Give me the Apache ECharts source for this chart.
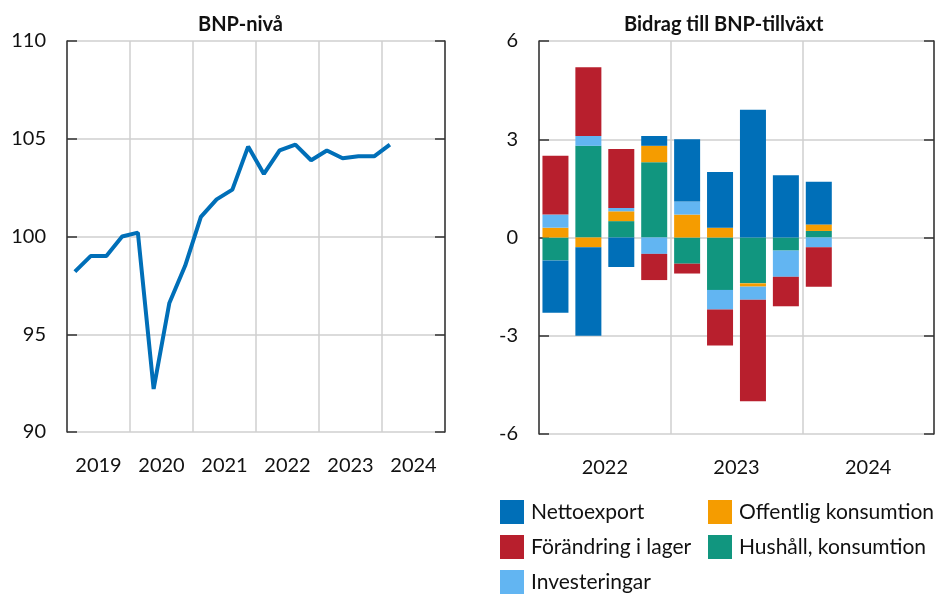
<!DOCTYPE html>
<html>
<head>
<meta charset="utf-8">
<script src="https://cdn.jsdelivr.net/npm/echarts@6/dist/echarts.min.js"></script>
<style>
  html, body { margin: 0; padding: 0; background: #fff; }
  #chart { width: 944px; height: 594px; }
</style>
</head>
<body>
<div id="chart"></div>
<script>
// Left panel: GDP level, quarterly 2019K1-2024K1
var years = ['2019', '2020', '2021', '2022', '2023', '2024']
var quarters = []
years.forEach(function (y) {
    for (var q = 1; q <= 4; q++) quarters.push(y + 'K' + q)
})
var bnpLevel = [98.2, 99.0, 99.0, 100.0, 100.2, 92.2, 96.6, 98.5,
    101.0, 101.9, 102.4, 104.6, 103.2, 104.4, 104.7, 103.9,
    104.4, 104.0, 104.1, 104.1, 104.7]

// Right panel: contributions to GDP growth, 2022K1-2024K1
var barYears = ['2022', '2023', '2024']
var barQuarters = quarters.slice(12)
var hushall = [-0.7, 2.8, 0.5, 2.3, -0.8, -1.6, -1.4, -0.4, 0.2]
var offentlig = [0.3, -0.3, 0.3, 0.5, 0.7, 0.3, -0.1, 0.0, 0.2]
var investeringar = [0.4, 0.3, 0.1, -0.5, 0.4, -0.6, -0.4, -0.8, -0.3]
var lager = [1.8, 2.1, 1.8, -0.8, -0.3, -1.1, -3.1, -0.9, -1.2]
var nettoexport = [-1.6, -2.7, -0.9, 0.3, 1.9, 1.7, 3.9, 1.9, 1.3]

var FONT = 'Lato'
var GRID_COLOR = '#cfcfcf'
var AXIS_COLOR = '#333'
var TEXT_COLOR = '#111'

var colors = {
    netto: '#006fb8',
    lager: '#b81f2d',
    invest: '#62b5f2',
    offentlig: '#f59c00',
    hushall: '#11967f'
}

function yLeft(gridIndex, min, max, interval) {
    return {
        type: 'value', gridIndex: gridIndex, min: min, max: max, interval: interval,
        axisLine: {show: true, lineStyle: {color: AXIS_COLOR, width: 1.5}},
        axisTick: {show: true, inside: true, length: 10, lineStyle: {color: AXIS_COLOR, width: 1.5}},
        axisLabel: {fontFamily: FONT, fontSize: 20, color: TEXT_COLOR, margin: 21},
        splitLine: {show: true, lineStyle: {color: GRID_COLOR, width: 1.5}}
    }
}

function yRight(gridIndex, min, max, interval) {
    return {
        type: 'value', gridIndex: gridIndex, position: 'right', min: min, max: max, interval: interval,
        axisLine: {show: true, lineStyle: {color: AXIS_COLOR, width: 1.5}},
        axisTick: {show: true, inside: true, length: 10, lineStyle: {color: AXIS_COLOR, width: 1.5}},
        axisLabel: {show: false},
        splitLine: {show: false}
    }
}

function yearAxis(gridIndex, data) {
    return {
        type: 'category', gridIndex: gridIndex, data: data, boundaryGap: true,
        axisLine: {show: false},
        axisTick: {show: false},
        axisLabel: {fontFamily: FONT, fontSize: 20, color: TEXT_COLOR, margin: 24},
        splitLine: {show: true, lineStyle: {color: GRID_COLOR, width: 1.5}}
    }
}

function quarterAxis(gridIndex, data) {
    return {type: 'category', gridIndex: gridIndex, data: data, boundaryGap: true, show: false}
}

function barSeries(name, data, color) {
    return {
        name: name, type: 'bar', stack: 'bidrag',
        xAxisIndex: 3, yAxisIndex: 3,
        data: data, barCategoryGap: '21%',
        itemStyle: {color: color},
        emphasis: {disabled: true}
    }
}

function legendColumn(left, names) {
    return {
        orient: 'vertical', left: left, top: 500, height: 120, padding: 0,
        itemWidth: 24, itemHeight: 24, itemGap: 11,
        icon: 'rect', selectedMode: false,
        textStyle: {fontFamily: FONT, fontSize: 21, color: TEXT_COLOR, padding: [0, 0, 0, 2]},
        data: names
    }
}

var chart = echarts.init(document.getElementById('chart'), null, {renderer: 'canvas'})

var option = {
    animation: false,
    textStyle: {fontFamily: FONT},
    title: [
        {text: 'BNP-nivå', left: 193, top: 10,
            textStyle: {fontFamily: FONT, fontSize: 20, fontWeight: 'bold', color: TEXT_COLOR}},
        {text: 'Bidrag till BNP-tillväxt', left: 619, top: 10,
            textStyle: {fontFamily: FONT, fontSize: 20, fontWeight: 'bold', color: TEXT_COLOR}}
    ],
    grid: [
        {left: 67, right: 499, top: 41, bottom: 162},
        {left: 539, right: 10, top: 41, bottom: 160}
    ],
    xAxis: [
        yearAxis(0, years),
        quarterAxis(0, quarters),
        yearAxis(1, barYears),
        quarterAxis(1, barQuarters)
    ],
    yAxis: [
        yLeft(0, 90, 110, 5),
        yRight(0, 90, 110, 5),
        yRight(1, -6, 6, 3),
        yLeft(1, -6, 6, 3)
    ],
    legend: [
        legendColumn(500, ['Nettoexport', 'Förändring i lager', 'Investeringar']),
        legendColumn(708, ['Offentlig konsumtion', 'Hushåll, konsumtion'])
    ],
    series: [
        {
            name: 'BNP-nivå', type: 'line', xAxisIndex: 1, yAxisIndex: 0,
            data: bnpLevel, showSymbol: false,
            lineStyle: {color: colors.netto, width: 4},
            itemStyle: {color: colors.netto}
        },
        barSeries('Hushåll, konsumtion', hushall, colors.hushall),
        barSeries('Offentlig konsumtion', offentlig, colors.offentlig),
        barSeries('Investeringar', investeringar, colors.invest),
        barSeries('Förändring i lager', lager, colors.lager),
        barSeries('Nettoexport', nettoexport, colors.netto)
    ]
}

chart.setOption(option)
</script>
</body>
</html>
